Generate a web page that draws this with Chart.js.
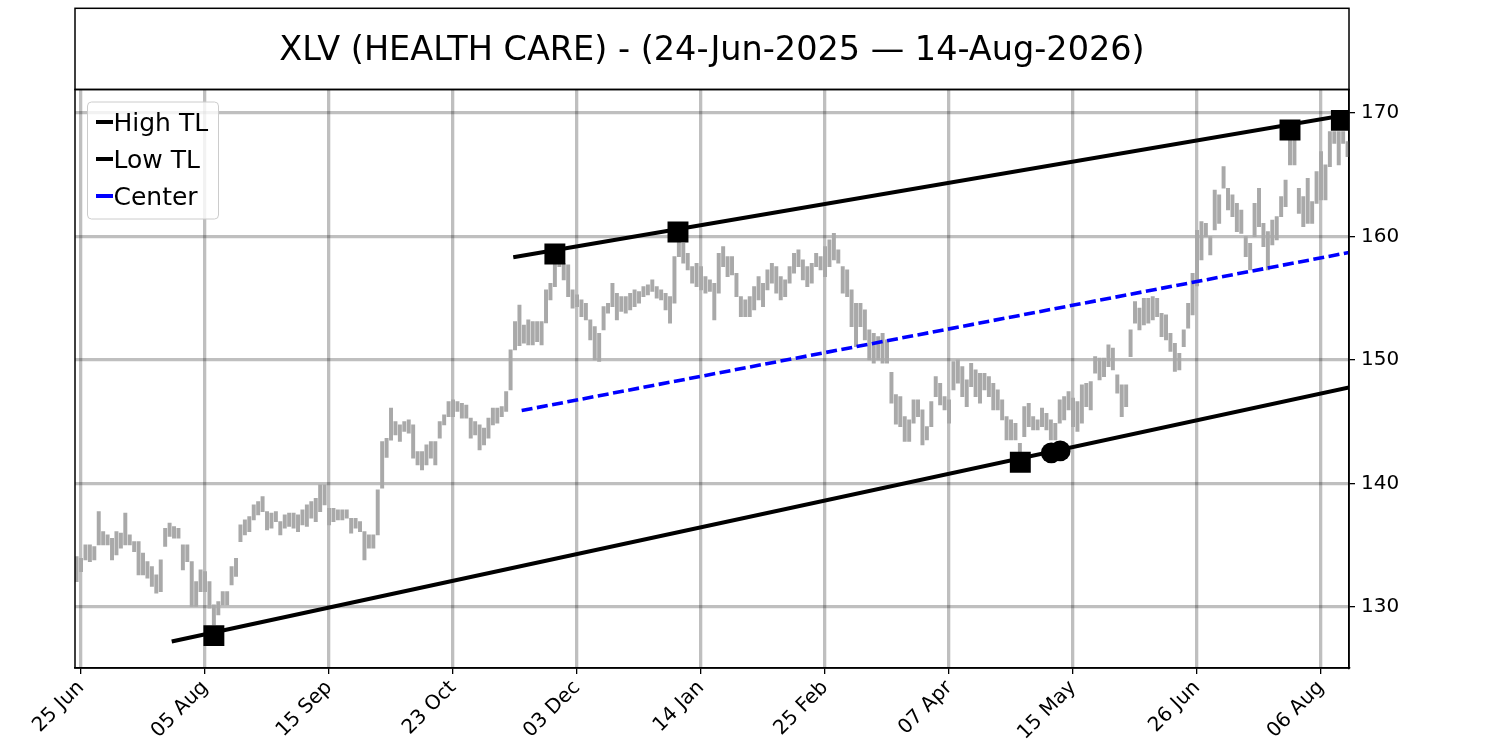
<!DOCTYPE html>
<html>
<head>
<meta charset="utf-8">
<script src="https://cdn.jsdelivr.net/npm/chart.js@4.4.1/dist/chart.umd.min.js"></script>
<style>
  html, body { margin: 0; padding: 0; background: #fff; }
</style>
</head>
<body>
<canvas id="grafico" width="1500" height="750"></canvas>
<script>
// faixa diaria (maxima / minima) de cada pregao, indice 0 = 24-Jun-2025
const highs = [
  134.08,133.94,135.02,135.02,134.89,137.72,136.10,135.83,135.56,136.10,
  135.97,137.59,135.83,135.29,135.29,134.35,133.67,133.27,132.59,133.81,
  136.37,136.78,136.51,136.37,135.02,135.02,133.67,132.05,133.00,132.86,
  132.05,130.16,130.43,131.24,131.24,133.27,133.94,136.64,137.05,137.32,
  138.26,138.53,138.94,137.72,137.59,137.72,136.91,137.45,137.59,137.59,
  137.45,137.86,138.26,138.53,138.80,139.88,139.88,137.99,137.99,137.86,
  137.86,137.86,137.18,137.18,136.91,136.10,135.83,135.83,139.48,143.39,
  143.66,146.09,145.01,144.74,145.01,145.14,144.74,142.58,142.58,143.12,
  143.39,143.39,145.01,145.55,146.62,146.76,146.62,146.49,146.35,145.28,
  145.01,144.74,144.47,145.28,146.09,146.09,146.22,147.43,150.81,153.10,
  154.45,152.83,153.24,153.10,153.10,153.10,155.67,156.21,157.83,158.37,
  157.83,157.70,155.67,155.27,154.86,154.59,153.24,152.70,152.16,154.32,
  154.59,156.21,155.40,155.13,155.13,155.40,155.67,155.54,155.94,156.08,
  156.48,155.94,155.67,155.40,155.13,158.37,159.99,159.45,158.64,157.56,
  157.83,157.56,156.75,156.48,156.21,158.64,159.18,158.37,158.37,157.02,
  155.13,154.86,155.13,155.94,156.75,156.21,157.29,157.83,157.56,156.75,
  156.48,157.56,158.64,158.91,158.10,157.56,157.83,158.64,158.37,159.18,
  159.72,160.26,158.91,157.56,157.29,155.67,154.59,154.59,154.05,152.43,
  152.16,151.89,152.16,151.62,149.00,147.20,147.03,145.41,145.14,146.76,
  146.76,145.95,144.60,146.63,148.65,148.11,147.03,146.76,149.87,150.00,
  149.46,148.38,149.73,149.19,148.92,148.92,148.65,148.11,147.57,146.76,
  145.41,145.14,144.87,143.25,146.22,146.49,145.41,145.14,146.09,145.68,
  145.14,144.87,146.76,147.03,147.44,146.90,146.63,147.98,148.11,148.25,
  150.27,150.14,150.14,151.22,150.95,148.79,147.98,147.98,152.43,154.73,
  154.19,154.99,154.99,155.13,154.99,153.78,153.65,152.16,151.35,150.54,
  152.43,154.59,157.02,160.50,161.20,161.06,159.98,163.76,163.36,165.65,
  163.90,163.36,162.68,162.14,159.98,159.44,162.68,163.90,161.06,160.39,
  161.33,161.60,163.22,164.57,167.81,167.81,163.90,163.22,164.71,162.82,
  165.25,166.87,165.79,168.49,168.49,168.49,168.49,167.68
];
const lows = [
  132.05,132.86,133.81,133.67,133.81,135.02,135.02,135.02,133.81,134.21,
  134.75,135.02,135.02,134.48,132.59,132.59,132.32,131.65,131.11,131.24,
  134.89,135.70,135.56,135.56,133.00,133.67,130.03,130.03,131.24,131.24,
  129.89,128.54,129.35,130.16,130.16,131.78,132.46,135.29,135.83,136.10,
  137.05,137.45,137.72,136.24,136.37,136.91,135.83,136.37,136.51,136.37,
  136.10,136.64,136.51,137.18,136.91,137.72,138.26,136.64,136.91,137.05,
  137.05,137.18,135.97,136.37,136.10,133.81,134.75,134.75,135.83,139.61,
  142.10,143.50,143.93,143.39,144.20,144.06,142.04,141.50,141.09,141.50,
  142.04,141.50,143.66,144.74,145.41,145.41,145.82,145.28,145.28,143.66,
  143.93,142.71,143.12,143.66,144.74,144.87,145.41,145.82,147.57,150.81,
  151.15,151.35,151.21,151.21,151.48,151.21,153.00,154.86,155.94,157.56,
  156.48,155.13,154.19,154.32,153.51,153.24,151.62,150.00,149.87,152.43,
  153.78,154.32,153.24,153.92,153.78,154.05,154.32,154.59,155.13,155.27,
  155.54,155.00,154.86,154.05,152.97,154.59,158.37,157.83,157.29,156.21,
  155.94,155.67,155.40,155.54,153.24,155.40,157.56,156.75,156.89,155.13,
  153.51,153.51,153.51,154.05,154.86,154.32,155.67,156.21,155.40,154.86,
  155.13,156.21,157.02,157.56,156.48,155.94,156.21,157.56,157.29,156.75,
  157.56,158.10,157.83,155.40,155.13,152.70,151.08,152.70,151.62,150.00,
  149.73,150.00,149.73,149.73,146.50,144.80,144.60,143.39,143.39,144.87,
  145.41,143.12,143.52,144.60,147.03,146.36,145.95,144.87,147.57,148.11,
  147.03,146.22,147.84,147.03,146.49,147.57,147.03,145.95,145.95,145.14,
  143.52,143.52,143.52,142.44,143.79,144.60,144.33,144.33,144.60,144.33,
  143.52,143.53,144.87,145.14,145.95,144.60,144.20,144.87,146.22,145.95,
  148.92,148.38,148.65,149.46,149.19,147.30,145.41,146.22,150.27,152.97,
  152.43,152.84,152.97,153.24,153.51,151.89,151.62,150.68,149.06,149.19,
  151.08,152.57,153.65,156.00,158.09,159.98,158.50,160.52,161.06,163.90,
  162.14,161.60,160.39,160.25,158.36,157.28,159.98,160.79,159.17,157.28,
  159.31,159.71,161.60,162.41,165.79,165.79,161.87,160.79,161.06,161.06,
  162.68,162.95,162.95,165.65,167.54,165.79,167.54,166.46
];

// eixo x: um rotulo a cada 28 pregoes
const tickBars = [1, 29, 57, 85, 113, 141, 169, 197, 225, 253, 281];
const tickLabels = ['25 Jun', '05 Aug', '15 Sep', '23 Oct', '03 Dec', '14 Jan',
                    '25 Feb', '07 Apr', '15 May', '26 Jun', '06 Aug'];
const yTicks = [130, 140, 150, 160, 170];

// linhas de tendencia (inicio / fim)
const highTLx = [98.6, 287.32];
const highTLy = [158.32, 169.87];
const lowTLx = [21.48, 287.32];
const lowTLy = [127.19, 147.77];
const centerX = [100.5, 287.32];
const centerY = [145.90, 158.70];

// pivos usados nas linhas
const highPivX = [108.0, 135.8, 274.0, 285.6];
const highPivY = [158.58, 160.36, 168.62, 169.40];
const lowPivX = [31.0, 213.1];
const lowPivY = [127.67, 141.72];
const touchX = [220.1, 222.1];
const touchY = [142.47, 142.63];

const seriesNames = ['High TL', 'Low TL', 'Center'];
const titulo = 'XLV (HEALTH CARE) - (24-Jun-2025 \u2014 14-Aug-2026)';

const FONTE = 'DejaVu Sans';
const pontos = (xs, ys) => xs.map((x, k) => ({ x: x, y: ys[k] }));

const barras = highs.map((h, i) => ({ x: i, y: [lows[i], h] }));

// moldura do grafico + caixa do titulo
const molduraPlugin = {
  id: 'moldura',
  afterDraw(chart) {
    const ctx = chart.ctx;
    const a = chart.chartArea;
    ctx.save();
    ctx.strokeStyle = '#000';
    ctx.lineWidth = 1.5;
    ctx.strokeRect(a.left, a.top, a.right - a.left, a.bottom - a.top);
    ctx.strokeRect(a.left, 8.3, a.right - a.left, a.top - 8.3);
    ctx.restore();
  }
};

// legenda dentro da area do grafico, canto superior esquerdo
const legendaPlugin = {
  id: 'legendaInterna',
  afterDraw(chart) {
    const ctx = chart.ctx;
    const a = chart.chartArea;
    const itens = chart.data.datasets.filter(d => d.legenda);
    const bx = a.left + 12.5, by = a.top + 12.5;
    const bw = 131, bh = 117;
    ctx.save();
    ctx.beginPath();
    ctx.roundRect(bx, by, bw, bh, 4);
    ctx.fillStyle = 'rgba(255,255,255,0.8)';
    ctx.fill();
    ctx.strokeStyle = '#cccccc';
    ctx.lineWidth = 1;
    ctx.stroke();
    ctx.font = '25px "' + FONTE + '"';
    ctx.textBaseline = 'alphabetic';
    ctx.textAlign = 'left';
    itens.forEach((d, k) => {
      const cy = by + 20 + k * 37;
      ctx.strokeStyle = d.borderColor;
      ctx.lineWidth = 4;
      ctx.setLineDash([]);
      ctx.beginPath();
      ctx.moveTo(bx + 8.5, cy);
      ctx.lineTo(bx + 25.5, cy);
      ctx.stroke();
      ctx.fillStyle = '#000';
      ctx.fillText(d.label, bx + 26, cy + 9);
    });
    ctx.restore();
  }
};

const grade = {
  color: 'rgba(0,0,0,0.25)',
  lineWidth: 3.3,
  offset: false,
  tickColor: '#000',
  tickLength: 6,
  tickWidth: 1.3
};

new Chart(document.getElementById('grafico'), {
  type: 'bar',
  data: {
    datasets: [
      {
        type: 'line', data: pontos(highPivX, highPivY), showLine: false,
        pointStyle: 'rect', pointRadius: 14.8, pointBackgroundColor: '#000',
        pointBorderWidth: 0, order: 0
      },
      {
        type: 'line', data: pontos(lowPivX, lowPivY), showLine: false,
        pointStyle: 'rect', pointRadius: 14.8, pointBackgroundColor: '#000',
        pointBorderWidth: 0, order: 0
      },
      {
        type: 'line', data: pontos(touchX, touchY), showLine: false,
        pointStyle: 'circle', pointRadius: 10.4, pointBackgroundColor: '#000',
        pointBorderWidth: 0, order: 0
      },
      {
        type: 'line', label: seriesNames[0], legenda: true,
        data: pontos(highTLx, highTLy), borderColor: '#000', borderWidth: 4,
        pointRadius: 0, order: 1
      },
      {
        type: 'line', label: seriesNames[1], legenda: true,
        data: pontos(lowTLx, lowTLy), borderColor: '#000', borderWidth: 4,
        pointRadius: 0, order: 1
      },
      {
        type: 'line', label: seriesNames[2], legenda: true,
        data: pontos(centerX, centerY), borderColor: '#0000ff', borderWidth: 3.6,
        borderDash: [11, 4.5], pointRadius: 0, order: 1
      },
      {
        type: 'bar', label: 'XLV', data: barras,
        backgroundColor: '#a9a9a9', barThickness: 3.3, borderWidth: 0, order: 10
      }
    ]
  },
  options: {
    responsive: false,
    devicePixelRatio: 1,
    animation: false,
    events: [],
    layout: { padding: { left: 75, right: 0, top: 8.3, bottom: 0 } },
    plugins: {
      legend: { display: false },
      tooltip: { enabled: false },
      title: {
        display: true,
        text: titulo,
        fullSize: false,
        color: '#000',
        font: { family: FONTE, size: 33.5, weight: 'normal', lineHeight: 1.2 },
        padding: { top: 23, bottom: 18 }
      }
    },
    scales: {
      x: {
        type: 'linear',
        min: -0.36,
        max: 287.32,
        offset: false,
        grid: grade,
        border: { display: true, color: '#000', width: 1.5 },
        afterBuildTicks: (s) => { s.ticks = tickBars.map(v => ({ value: v })); },
        afterFit: (s) => { s.height = 82; },
        ticks: {
          autoSkip: false,
          maxRotation: 45,
          minRotation: 45,
          padding: 2,
          color: '#000',
          font: { family: FONTE, size: 20 },
          callback: (v) => tickLabels[tickBars.indexOf(v)]
        }
      },
      y: {
        type: 'linear',
        position: 'right',
        min: 125.05,
        max: 171.9,
        grid: grade,
        border: { display: true, color: '#000', width: 1.5 },
        afterBuildTicks: (s) => { s.ticks = yTicks.map(v => ({ value: v })); },
        afterFit: (s) => { s.width = 151; },
        ticks: {
          padding: 6,
          color: '#000',
          font: { family: FONTE, size: 20 }
        }
      }
    }
  },
  plugins: [molduraPlugin, legendaPlugin]
});
</script>
</body>
</html>
